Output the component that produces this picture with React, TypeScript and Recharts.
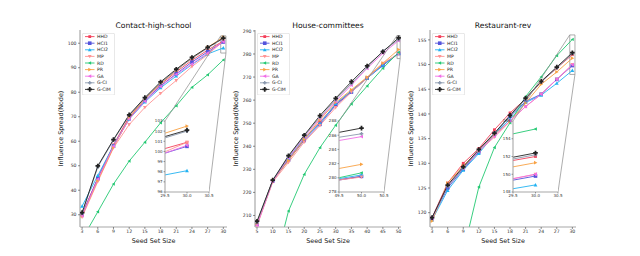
import React from 'react';
import { Legend, Line, LineChart, ReferenceArea, XAxis, YAxis } from 'recharts';

const SERIES = ['HHD', 'HCI1', 'HCI2', 'MP', 'RD', 'PR', 'GA', 'G-CI', 'G-CIM'];

// Contact-high-school
const contactX = [3, 6, 9, 12, 15, 18, 21, 24, 27, 30];
const contactValues: Record<string, number[]> = {
  HHD: [30.2, 45.0, 58.5, 70.0, 77.2, 83.2, 88.3, 93.0, 97.2, 100.9],
  HCI1: [30.0, 44.8, 58.0, 69.3, 76.6, 82.6, 87.5, 92.3, 96.5, 100.5],
  HCI2: [33.5, 46.0, 58.2, 69.0, 76.0, 81.8, 86.6, 91.3, 95.6, 98.1],
  MP: [29.0, 43.5, 57.3, 66.8, 73.8, 79.5, 84.8, 90.5, 95.3, 100.9],
  RD: [20.0, 31.2, 42.5, 51.9, 59.6, 67.5, 74.5, 82.0, 87.1, 93.2],
  PR: [29.5, 44.0, 57.5, 69.5, 77.3, 83.6, 88.9, 93.9, 98.3, 102.5],
  GA: [29.6, 44.5, 58.0, 69.0, 76.3, 82.3, 87.3, 91.5, 96.0, 100.6],
  'G-CI': [30.5, 49.5, 60.4, 70.5, 77.5, 83.8, 89.0, 93.8, 98.0, 102.0],
  'G-CIM': [30.9, 49.9, 60.7, 70.8, 77.8, 84.2, 89.4, 94.2, 98.3, 102.1],
};
const contactYTicks = [30, 40, 50, 60, 70, 80, 90, 100];
const contactInsetXTicks = [29.5, 30, 30.5];
const contactInsetYTicks = [96, 97, 98, 99, 100, 101, 102, 103];

// House-committees
const houseX = [5, 10, 15, 20, 25, 30, 35, 40, 45, 50];
const houseValues: Record<string, number[]> = {
  HHD: [206.0, 225.0, 234.5, 243.0, 250.5, 258.0, 264.0, 269.7, 275.5, 280.2],
  HCI1: [206.2, 225.0, 234.0, 242.5, 249.5, 257.8, 263.5, 269.5, 275.0, 280.2],
  HCI2: [206.5, 225.2, 234.8, 243.5, 250.0, 258.5, 264.0, 269.5, 275.2, 280.4],
  MP: [205.5, 224.5, 233.0, 241.8, 249.0, 256.8, 263.5, 269.5, 276.0, 280.1],
  RD: [150.0, 185.0, 211.9, 227.8, 239.4, 249.1, 258.3, 266.1, 273.8, 280.7],
  PR: [206.5, 225.2, 233.8, 243.0, 251.5, 259.0, 264.5, 270.0, 276.0, 281.9],
  GA: [205.8, 224.8, 235.0, 244.0, 252.0, 259.5, 266.5, 273.8, 280.3, 285.8],
  'G-CI': [207.0, 225.2, 235.5, 244.5, 252.6, 260.2, 267.2, 274.2, 281.3, 286.2],
  'G-CIM': [207.5, 225.3, 235.9, 244.8, 253.3, 260.8, 268.0, 274.8, 281.0, 287.0],
};
const houseYTicks = [210, 220, 230, 240, 250, 260, 270, 280, 290];
const houseInsetXTicks = [49.5, 50, 50.5];
const houseInsetYTicks = [278, 280, 282, 284, 286, 288];

// Restaurant-rev
const restX = [3, 6, 9, 12, 15, 18, 21, 24, 27, 30];
const restValues: Record<string, number[]> = {
  HHD: [119.0, 126.0, 130.0, 133.0, 136.8, 140.2, 143.0, 146.5, 149.3, 152.0],
  HCI1: [118.8, 125.0, 128.8, 132.3, 136.0, 139.5, 142.5, 144.0, 147.0, 149.8],
  HCI2: [118.5, 124.5, 128.6, 132.0, 135.8, 139.0, 142.3, 143.8, 146.2, 148.8],
  MP: [118.8, 125.5, 129.0, 132.5, 135.3, 138.5, 141.5, 144.0, 147.0, 150.0],
  RD: [90.0, 100.0, 112.0, 125.2, 133.2, 138.2, 143.5, 147.5, 151.8, 155.1],
  PR: [118.3, 126.0, 129.5, 132.5, 135.8, 138.5, 142.2, 146.0, 148.5, 151.3],
  GA: [118.8, 125.5, 129.0, 132.5, 135.5, 138.6, 141.5, 144.0, 147.0, 150.0],
  'G-CI': [119.0, 125.3, 129.0, 132.7, 136.0, 139.5, 143.0, 146.5, 149.3, 152.2],
  'G-CIM': [119.0, 125.6, 129.3, 132.8, 136.1, 139.7, 143.2, 146.6, 149.5, 152.4],
};
const restYTicks = [120, 125, 130, 135, 140, 145, 150, 155];
const restInsetXTicks = [29.5, 30, 30.5];
const restInsetYTicks = [148, 150, 152, 154, 156];

const COLORS: Record<string, string> = {
  HHD: '#f4405a',
  HCI1: '#5454dc',
  HCI2: '#22b2f2',
  MP: '#ff9494',
  RD: '#22c872',
  PR: '#f8a244',
  GA: '#f06ee6',
  'G-CI': '#8a98ae',
  'G-CIM': '#222222',
};
const SHAPES: Record<string, [string, number]> = {
  HHD: ['s', 1.4],
  HCI1: ['s', 1.8],
  HCI2: ['^', 1.9],
  MP: ['v', 1.9],
  RD: ['<', 1.7],
  PR: ['>', 1.9],
  GA: ['<', 1.9],
  'G-CI': ['P', 1.8],
  'G-CIM': ['P', 2.3],
};

const W = 640;
const H = 256;
const FONT = 'DejaVu Sans';
const SPINE = '#a8a8a8';

const PANELS = [
  {
    title: 'Contact-high-school',
    x: contactX,
    values: contactValues,
    xTicks: contactX,
    yTicks: contactYTicks,
    box: { left: 80, right: 227, top: 30, bottom: 227 },
    xDomain: [2.6, 30.7],
    yDomain: [25, 105.4],
    inset: {
      left: 165, right: 209, top: 121, bottom: 192,
      xDomain: [29.5, 30.5], yDomain: [96, 103],
      xTicks: contactInsetXTicks, yTicks: contactInsetYTicks,
    },
  },
  {
    title: 'House-committees',
    x: houseX,
    values: houseValues,
    xTicks: houseX,
    yTicks: houseYTicks,
    box: { left: 255, right: 401, top: 30, bottom: 227 },
    xDomain: [4.36, 50.76],
    yDomain: [205, 290.4],
    inset: {
      left: 339, right: 384, top: 121, bottom: 192,
      xDomain: [49.5, 50.5], yDomain: [278, 288],
      xTicks: houseInsetXTicks, yTicks: houseInsetYTicks,
    },
  },
  {
    title: 'Restaurant-rev',
    x: restX,
    values: restValues,
    xTicks: restX,
    yTicks: restYTicks,
    box: { left: 430, right: 576, top: 30, bottom: 227 },
    xDomain: [2.6, 30.7],
    yDomain: [117.1, 157],
    inset: {
      left: 513, right: 558, top: 121, bottom: 192,
      xDomain: [29.5, 30.5], yDomain: [148, 156],
      xTicks: restInsetXTicks, yTicks: restInsetYTicks,
    },
  },
];

type Panel = (typeof PANELS)[number];

function buildRows(xs: number[], values: Record<string, number[]>) {
  return xs.map((x, i) => {
    const row: Record<string, number> = { x };
    SERIES.forEach((s) => {
      row[s] = values[s][i];
    });
    return row;
  });
}

function Marker({ name, cx, cy }: { name: string; cx: number; cy: number }) {
  const [shape, r] = SHAPES[name];
  const color = COLORS[name];
  if (cx == null || cy == null) return null;
  switch (shape) {
    case 's':
      return <rect x={cx - r} y={cy - r} width={2 * r} height={2 * r} fill={color} />;
    case '^':
      return <polygon points={`${cx},${cy - r} ${cx - r},${cy + r * 0.8} ${cx + r},${cy + r * 0.8}`} fill={color} />;
    case 'v':
      return <polygon points={`${cx},${cy + r} ${cx - r},${cy - r * 0.8} ${cx + r},${cy - r * 0.8}`} fill={color} />;
    case '<':
      return <polygon points={`${cx - r},${cy} ${cx + r * 0.8},${cy - r} ${cx + r * 0.8},${cy + r}`} fill={color} />;
    case '>':
      return <polygon points={`${cx + r},${cy} ${cx - r * 0.8},${cy - r} ${cx - r * 0.8},${cy + r}`} fill={color} />;
    default: {
      const a = r * 0.38;
      return (
        <polygon
          points={`${cx - a},${cy - r} ${cx + a},${cy - r} ${cx + a},${cy - a} ${cx + r},${cy - a} ${cx + r},${cy + a} ${cx + a},${cy + a} ${cx + a},${cy + r} ${cx - a},${cy + r} ${cx - a},${cy + a} ${cx - r},${cy + a} ${cx - r},${cy - a} ${cx - a},${cy - a}`}
          fill={color}
        />
      );
    }
  }
}

// legend rows follow the plotting order, not the payload's order
function LegendBox() {
  const rowH = 6.6;
  const h = SERIES.length * rowH + 3;
  return (
    <svg width={33} height={h} style={{ display: 'block' }}>
      <rect x={0.3} y={0.3} width={32.4} height={h - 0.6} rx={1.5} fill="rgba(255,255,255,0.85)" stroke="#d0d0d0" strokeWidth={0.6} />
      {SERIES.map((s, i) => {
        const y = 3.6 + i * rowH;
        return (
          <g key={s}>
            <line x1={3} x2={12.5} y1={y} y2={y} stroke={COLORS[s]} strokeWidth={0.9} />
            <Marker name={s} cx={7.75} cy={y} />
            <text x={15} y={y} dominantBaseline="central" fontSize={4.6} fontFamily={FONT} fill="#222">
              {s}
            </text>
          </g>
        );
      })}
    </svg>
  );
}

function seriesLines(key: string) {
  return SERIES.map((s) => (
    <Line
      key={`${key}-${s}`}
      xAxisId="b"
      yAxisId="l"
      type="linear"
      dataKey={s}
      name={s}
      stroke={COLORS[s]}
      strokeWidth={0.9}
      dot={(props: any) => <Marker key={`${key}-${s}-${props.index}`} name={s} cx={props.cx} cy={props.cy} />}
      activeDot={false}
      isAnimationActive={false}
    />
  ));
}

function MainChart({ p }: { p: Panel }) {
  const rows = buildRows(p.x, p.values);
  const YW = 20;
  const XH = 10;
  const { box } = p;
  const ins = p.inset;
  return (
    <div style={{ position: 'absolute', left: 0, top: 0 }}>
      <LineChart
        width={W}
        height={H}
        data={rows}
        margin={{ left: box.left - YW, right: W - box.right, top: box.top, bottom: H - box.bottom - XH }}
      >
        <XAxis
          xAxisId="b"
          dataKey="x"
          type="number"
          domain={p.xDomain}
          ticks={p.xTicks}
          interval={0}
          allowDataOverflow
          height={XH}
          axisLine={{ stroke: SPINE, strokeWidth: 1.2 }}
          tickLine={{ stroke: '#444', strokeWidth: 0.6 }}
          tickSize={2}
          tickMargin={1}
          tick={{ fontSize: 4.6, fill: '#333', fontFamily: FONT }}
        />
        <XAxis xAxisId="t" orientation="top" dataKey="x" type="number" domain={p.xDomain} allowDataOverflow height={0} tick={false} tickLine={false} axisLine={{ stroke: SPINE, strokeWidth: 1.2 }} />
        <YAxis
          yAxisId="l"
          type="number"
          domain={p.yDomain}
          ticks={p.yTicks}
          interval={0}
          allowDataOverflow
          width={YW}
          axisLine={{ stroke: SPINE, strokeWidth: 1.2 }}
          tickLine={{ stroke: '#444', strokeWidth: 0.6 }}
          tickSize={2}
          tickMargin={1.5}
          tick={{ fontSize: 4.6, fill: '#333', fontFamily: FONT }}
        />
        <YAxis yAxisId="r" orientation="right" type="number" domain={p.yDomain} allowDataOverflow width={0} tick={false} tickLine={false} axisLine={{ stroke: SPINE, strokeWidth: 1.2 }} />
        <ReferenceArea
          xAxisId="b"
          yAxisId="l"
          x1={ins.xDomain[0]}
          x2={ins.xDomain[1]}
          y1={ins.yDomain[0]}
          y2={ins.yDomain[1]}
          fill="none"
          stroke="#8a8a8a"
          strokeWidth={0.7}
        />
        {seriesLines('m')}
        <Legend
          layout="vertical"
          align="center"
          verticalAlign="middle"
          content={() => <LegendBox />}
          wrapperStyle={{ left: box.left + 1.5, top: box.top + 2.5, width: 33 }}
        />
      </LineChart>
    </div>
  );
}

function InsetChart({ p }: { p: Panel }) {
  const rows = buildRows(p.x, p.values);
  const ins = p.inset;
  const YW = 11;
  const XH = 8;
  const padT = 3;
  const padR = 6;
  const w = ins.right - ins.left + YW + padR;
  const h = ins.bottom - ins.top + XH + padT;
  return (
    <>
      <div
        style={{
          position: 'absolute',
          left: ins.left,
          top: ins.top,
          width: ins.right - ins.left,
          height: ins.bottom - ins.top,
          background: '#fff',
        }}
      />
      <div style={{ position: 'absolute', left: ins.left - YW, top: ins.top - padT }}>
        <LineChart width={w} height={h} data={rows} margin={{ left: 0, right: padR, top: padT, bottom: 0 }}>
          <XAxis
            xAxisId="b"
            dataKey="x"
            type="number"
            domain={ins.xDomain}
            ticks={ins.xTicks}
            interval={0}
            allowDataOverflow
            height={XH}
            axisLine={{ stroke: SPINE, strokeWidth: 1.1 }}
            tickLine={{ stroke: '#444', strokeWidth: 0.5 }}
            tickSize={1.5}
            tickMargin={0.8}
            tickFormatter={(v: number) => v.toFixed(1)}
            tick={{ fontSize: 4, fill: '#333', fontFamily: FONT }}
          />
          <XAxis xAxisId="t" orientation="top" dataKey="x" type="number" domain={ins.xDomain} allowDataOverflow height={0} tick={false} tickLine={false} axisLine={{ stroke: SPINE, strokeWidth: 1.1 }} />
          <YAxis
            yAxisId="l"
            type="number"
            domain={ins.yDomain}
            ticks={ins.yTicks}
            interval={0}
            allowDataOverflow
            width={YW}
            axisLine={{ stroke: SPINE, strokeWidth: 1.1 }}
            tickLine={{ stroke: '#444', strokeWidth: 0.5 }}
            tickSize={1.5}
            tickMargin={1}
            tick={{ fontSize: 4, fill: '#333', fontFamily: FONT }}
          />
          <YAxis yAxisId="r" orientation="right" type="number" domain={ins.yDomain} allowDataOverflow width={0} tick={false} tickLine={false} axisLine={{ stroke: SPINE, strokeWidth: 1.1 }} />
          {seriesLines('i')}
        </LineChart>
      </div>
    </>
  );
}

function Decorations() {
  return (
    <svg width={W} height={H} style={{ position: 'absolute', left: 0, top: 0 }}>
      {PANELS.map((p) => {
        const { box, inset: ins } = p;
        const px = (v: number) => box.left + ((v - p.xDomain[0]) / (p.xDomain[1] - p.xDomain[0])) * (box.right - box.left);
        const py = (v: number) => box.bottom - ((v - p.yDomain[0]) / (p.yDomain[1] - p.yDomain[0])) * (box.bottom - box.top);
        const cx = (box.left + box.right) / 2;
        const cy = (box.top + box.bottom) / 2;
        return (
          <g key={p.title}>
            <line x1={px(ins.xDomain[0])} y1={py(ins.yDomain[1])} x2={ins.left} y2={ins.top} stroke="#8a8a8a" strokeWidth={0.7} />
            <line x1={px(ins.xDomain[1])} y1={py(ins.yDomain[0])} x2={ins.right} y2={ins.bottom} stroke="#8a8a8a" strokeWidth={0.7} />
            <text x={cx} y={27.5} textAnchor="middle" fontSize={7.6} fontFamily={FONT} fill="#111">
              {p.title}
            </text>
            <text x={cx} y={242.5} textAnchor="middle" fontSize={6.4} fontFamily={FONT} fill="#111">
              Seed Set Size
            </text>
            <text
              x={box.left - 17}
              y={cy}
              textAnchor="middle"
              fontSize={6.4}
              fontFamily={FONT}
              fill="#111"
              transform={`rotate(-90 ${box.left - 17} ${cy})`}
            >
              Influence Spread(Node)
            </text>
          </g>
        );
      })}
    </svg>
  );
}

export default function App() {
  return (
    <div style={{ position: 'absolute', left: 0, top: 0, width: W, height: H, background: '#fff', overflow: 'hidden' }}>
      {PANELS.map((p) => (
        <MainChart key={`m-${p.title}`} p={p} />
      ))}
      <Decorations />
      {PANELS.map((p) => (
        <InsetChart key={`i-${p.title}`} p={p} />
      ))}
    </div>
  );
}
